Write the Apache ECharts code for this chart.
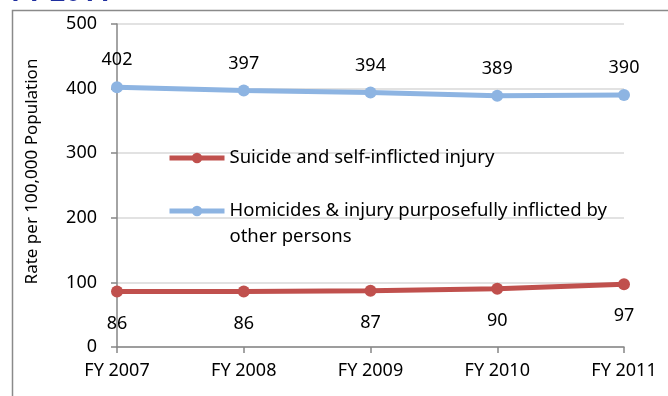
<!DOCTYPE html>
<html>
<head>
<meta charset="utf-8">
<script src="https://cdn.jsdelivr.net/npm/echarts@6/dist/echarts.min.js"></script>
<style>
  html, body { margin: 0; padding: 0; background: #fff; }
  #chart { width: 668px; height: 396px; }
</style>
</head>
<body>
<div id="chart"></div>
<script>
// Fiscal years on the x axis
const years = ['FY 2007', 'FY 2008', 'FY 2009', 'FY 2010', 'FY 2011'];
// Rates per 100,000 population
const suicideRates = [86, 86, 87, 90, 97];
const homicideRates = [402, 397, 394, 389, 390];
// Y axis ticks
const yTicks = [0, 100, 200, 300, 400, 500];

const suicideName = 'Suicide and self-inflicted injury';
const homicideName = 'Homicides & injury purposefully inflicted by\nother persons';

const FONT = 'Noto Sans';
const RED = '#C0504D';
const BLUE = '#8DB4E2';
const LEGEND_LINE = 26;

const chart = echarts.init(document.getElementById('chart'), null, { renderer: 'canvas' });

const legendBase = {
  orient: 'vertical',
  left: 167,
  padding: 0,
  itemWidth: 55,
  itemHeight: 13,
  lineStyle: { width: 5 },
  textStyle: { fontFamily: FONT, fontSize: 18.5, color: '#000', lineHeight: LEGEND_LINE }
};

chart.setOption({
  animation: false,
  backgroundColor: '#ffffff',
  textStyle: { fontFamily: FONT },
  title: {
    text: 'FY 2011',
    left: 6,
    top: -25,
    textStyle: { fontFamily: FONT, fontSize: 27, fontWeight: 'bold', color: '#1F2F9F' }
  },
  graphic: [{
    type: 'rect',
    shape: { x: 12.5, y: 10.5, width: 700, height: 420 },
    style: { fill: 'none', stroke: '#8a8a8a', lineWidth: 1.5 },
    silent: true,
    z: 0
  }],
  legend: [
    Object.assign({}, legendBase, {
      data: [suicideName],
      top: 158 - LEGEND_LINE / 2
    }),
    Object.assign({}, legendBase, {
      data: [homicideName],
      top: 211 - LEGEND_LINE * 1.5,
      // a blank first line keeps the marker level with the first text line
      formatter: name => ' \n' + name
    })
  ],
  grid: { left: 117, right: 44, top: 24, bottom: 49, containLabel: false },
  xAxis: {
    type: 'category',
    data: years,
    boundaryGap: false,
    axisLine: { lineStyle: { color: '#868686', width: 1.5 } },
    axisTick: { show: true, length: 6, lineStyle: { color: '#868686', width: 1.5 } },
    axisLabel: { color: '#000', fontSize: 18, fontFamily: FONT, margin: 15 },
    splitLine: { show: false }
  },
  yAxis: {
    type: 'value',
    min: yTicks[0],
    max: yTicks[yTicks.length - 1],
    interval: yTicks[1] - yTicks[0],
    name: 'Rate per 100,000 Population',
    nameLocation: 'middle',
    nameGap: 76,
    nameTextStyle: { color: '#000', fontSize: 17, fontFamily: FONT, padding: [0, 0, 0, 28] },
    axisLine: { show: true, lineStyle: { color: '#868686', width: 1.5 } },
    axisTick: { show: true, length: 6, lineStyle: { color: '#868686', width: 1.5 } },
    axisLabel: { color: '#000', fontSize: 18, fontFamily: FONT, margin: 20 },
    splitLine: { show: true, lineStyle: { color: '#D9D9D9', width: 1.5 } }
  },
  series: [{
    name: suicideName,
    type: 'line',
    data: suicideRates,
    symbol: 'circle',
    symbolSize: 12,
    itemStyle: { color: RED },
    lineStyle: { color: RED, width: 5 },
    label: { show: true, position: 'bottom', distance: 17, color: '#000', fontSize: 18, fontFamily: FONT },
    z: 3
  }, {
    name: homicideName,
    type: 'line',
    data: homicideRates,
    symbol: 'circle',
    symbolSize: 12,
    itemStyle: { color: BLUE },
    lineStyle: { color: BLUE, width: 5 },
    label: { show: true, position: 'top', distance: 12, color: '#000', fontSize: 18, fontFamily: FONT },
    z: 3
  }]
});
</script>
</body>
</html>
